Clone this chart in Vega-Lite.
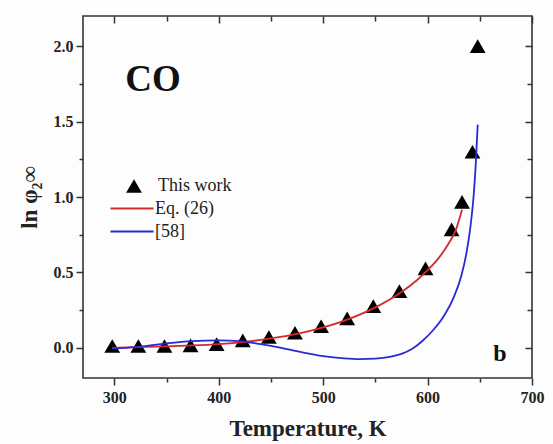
{
  "$schema": "https://vega.github.io/schema/vega-lite/v6.json",
  "width": 449,
  "height": 362,
  "autosize": {"type": "none"},
  "padding": {"left": 83, "top": 16, "right": 21, "bottom": 66},
  "background": "#fdfdfd",
  "config": {
    "view": {"stroke": "#333", "strokeWidth": 1.6},
    "axis": {
      "domain": false, "grid": false,
      "labelFont": "Liberation Serif", "labelFontWeight": "bold", "labelFontSize": 16, "labelColor": "#222",
      "titleFont": "Liberation Serif", "titleFontWeight": "bold", "titleFontSize": 23, "titleColor": "#222",
      "tickColor": "#333", "tickWidth": 1.5
    },
    "legend": {"labelFont": "Liberation Serif", "labelFontSize": 18, "labelColor": "#222", "padding": 0, "title": null}
  },
  "datasets": {
    "points": [
      {"T": 298, "v": 0.012, "series": "This work"},
      {"T": 323, "v": 0.012, "series": "This work"},
      {"T": 348, "v": 0.012, "series": "This work"},
      {"T": 373, "v": 0.016, "series": "This work"},
      {"T": 398, "v": 0.025, "series": "This work"},
      {"T": 423, "v": 0.050, "series": "This work"},
      {"T": 448, "v": 0.072, "series": "This work"},
      {"T": 473, "v": 0.100, "series": "This work"},
      {"T": 498, "v": 0.143, "series": "This work"},
      {"T": 523, "v": 0.195, "series": "This work"},
      {"T": 548, "v": 0.277, "series": "This work"},
      {"T": 573, "v": 0.376, "series": "This work"},
      {"T": 598, "v": 0.527, "series": "This work"},
      {"T": 623, "v": 0.786, "series": "This work"},
      {"T": 633, "v": 0.968, "series": "This work"},
      {"T": 643, "v": 1.300, "series": "This work"},
      {"T": 648, "v": 2.000, "series": "This work"}
    ],
    "eq26": [
      {"T": 298, "v": 0.000, "series": "Eq. (26)"},
      {"T": 320, "v": 0.004, "series": "Eq. (26)"},
      {"T": 350, "v": 0.010, "series": "Eq. (26)"},
      {"T": 375, "v": 0.016, "series": "Eq. (26)"},
      {"T": 400, "v": 0.025, "series": "Eq. (26)"},
      {"T": 425, "v": 0.040, "series": "Eq. (26)"},
      {"T": 450, "v": 0.062, "series": "Eq. (26)"},
      {"T": 475, "v": 0.092, "series": "Eq. (26)"},
      {"T": 500, "v": 0.135, "series": "Eq. (26)"},
      {"T": 525, "v": 0.192, "series": "Eq. (26)"},
      {"T": 550, "v": 0.268, "series": "Eq. (26)"},
      {"T": 575, "v": 0.370, "series": "Eq. (26)"},
      {"T": 590, "v": 0.450, "series": "Eq. (26)"},
      {"T": 600, "v": 0.515, "series": "Eq. (26)"},
      {"T": 610, "v": 0.590, "series": "Eq. (26)"},
      {"T": 620, "v": 0.690, "series": "Eq. (26)"},
      {"T": 627, "v": 0.780, "series": "Eq. (26)"},
      {"T": 633, "v": 0.915, "series": "Eq. (26)"}
    ],
    "ref58": [
      {"T": 298, "v": -0.005, "series": "[58]"},
      {"T": 320, "v": 0.005, "series": "[58]"},
      {"T": 350, "v": 0.030, "series": "[58]"},
      {"T": 375, "v": 0.045, "series": "[58]"},
      {"T": 400, "v": 0.050, "series": "[58]"},
      {"T": 420, "v": 0.045, "series": "[58]"},
      {"T": 440, "v": 0.025, "series": "[58]"},
      {"T": 460, "v": 0.000, "series": "[58]"},
      {"T": 480, "v": -0.030, "series": "[58]"},
      {"T": 500, "v": -0.055, "series": "[58]"},
      {"T": 520, "v": -0.070, "series": "[58]"},
      {"T": 535, "v": -0.075, "series": "[58]"},
      {"T": 550, "v": -0.072, "series": "[58]"},
      {"T": 565, "v": -0.058, "series": "[58]"},
      {"T": 575, "v": -0.040, "series": "[58]"},
      {"T": 585, "v": -0.008, "series": "[58]"},
      {"T": 595, "v": 0.045, "series": "[58]"},
      {"T": 605, "v": 0.115, "series": "[58]"},
      {"T": 615, "v": 0.205, "series": "[58]"},
      {"T": 625, "v": 0.335, "series": "[58]"},
      {"T": 632, "v": 0.470, "series": "[58]"},
      {"T": 637, "v": 0.620, "series": "[58]"},
      {"T": 641, "v": 0.800, "series": "[58]"},
      {"T": 644, "v": 1.000, "series": "[58]"},
      {"T": 646, "v": 1.200, "series": "[58]"},
      {"T": 648, "v": 1.480, "series": "[58]"}
    ],
    "labels": [
      {"label": "CO"}
    ]
  },
  "layer": [
    {
      "data": {"name": "points"},
      "mark": {"type": "point", "filled": true, "size": 250, "opacity": 1, "color": "#000000"},
      "encoding": {
        "x": {"field": "T", "type": "quantitative",
          "scale": {"domain": [270, 700], "nice": false, "zero": false},
          "axis": {"orient": "bottom", "title": "Temperature, K", "values": [300, 350, 400, 450, 500, 550, 600, 650, 700],
            "labelExpr": "datum.value % 100 === 0 ? datum.label : ''",
            "tickSize": {"condition": {"test": "datum.value % 100 === 0", "value": 7}, "value": 4},
            "labelPadding": 4, "titlePadding": 12, "labelFlush": false, "labelOverlap": false}},
        "y": {"field": "v", "type": "quantitative",
          "scale": {"domain": [-0.2, 2.2], "nice": false, "zero": false},
          "axis": {"orient": "left", "title": "ln φ₂∞", "values": [0, 0.25, 0.5, 0.75, 1, 1.25, 1.5, 1.75, 2],
            "format": ".1f",
            "labelExpr": "(datum.value * 2) % 1 === 0 ? datum.label : ''",
            "tickSize": {"condition": {"test": "(datum.value * 2) % 1 === 0", "value": 7}, "value": 4},
            "labelPadding": 3, "titlePadding": 12, "labelFlush": false, "labelOverlap": false}},
        "shape": {"field": "series", "type": "nominal",
          "scale": {"domain": ["This work"], "range": ["triangle-up"]},
          "legend": {"orient": "none", "legendX": 42, "legendY": 161, "labelOffset": 15, "symbolSize": 250}}
      }
    },
    {
      "data": {"name": "eq26"},
      "mark": {"type": "line", "strokeWidth": 1.8, "interpolate": "monotone"},
      "encoding": {
        "x": {"field": "T", "type": "quantitative", "axis": null},
        "y": {"field": "v", "type": "quantitative", "axis": null},
        "color": {"field": "series", "type": "nominal",
          "scale": {"domain": ["Eq. (26)"], "range": ["#d42a2a"]},
          "legend": {"orient": "none", "legendX": 26, "legendY": 169.5, "labelOffset": 0,
            "symbolType": "stroke", "symbolSize": 1850, "symbolStrokeWidth": 2}}
      }
    },
    {
      "data": {"name": "ref58"},
      "mark": {"type": "line", "strokeWidth": 1.8, "interpolate": "monotone"},
      "encoding": {
        "x": {"field": "T", "type": "quantitative", "axis": null},
        "y": {"field": "v", "type": "quantitative", "axis": null},
        "stroke": {"field": "series", "type": "nominal",
          "scale": {"domain": ["[58]"], "range": ["#2a2ad4"]},
          "legend": {"orient": "none", "legendX": 26, "legendY": 192.5, "labelOffset": 0,
            "symbolType": "stroke", "symbolSize": 1850, "symbolStrokeWidth": 2}}
      }
    },
    {
      "data": {"name": "labels"},
      "mark": {"type": "text", "font": "Liberation Serif", "fontWeight": "bold", "fontSize": 37, "align": "left", "baseline": "alphabetic", "color": "#111"},
      "encoding": {
        "x": {"datum": 310.5, "type": "quantitative",
          "axis": {"orient": "top", "title": null, "labels": false, "values": [300, 350, 400, 450, 500, 550, 600, 650, 700],
            "tickSize": {"condition": {"test": "datum.value % 100 === 0", "value": -7}, "value": -5}}},
        "y": {"datum": 1.704, "type": "quantitative",
          "axis": {"orient": "right", "title": null, "labels": false, "values": [0, 0.25, 0.5, 0.75, 1, 1.25, 1.5, 1.75, 2],
            "tickSize": {"condition": {"test": "(datum.value * 2) % 1 === 0", "value": -7}, "value": -5}}},
        "text": {"field": "label"}
      }
    },
    {
      "data": {"values": [{"label": "b"}]},
      "mark": {"type": "text", "font": "Liberation Serif", "fontWeight": "bold", "fontSize": 24, "align": "left", "baseline": "alphabetic", "color": "#111"},
      "encoding": {
        "x": {"datum": 663, "type": "quantitative", "axis": null},
        "y": {"datum": -0.09, "type": "quantitative", "axis": null},
        "text": {"field": "label"}
      }
    }
  ],
  "resolve": {"axis": {"x": "independent", "y": "independent"}}
}
